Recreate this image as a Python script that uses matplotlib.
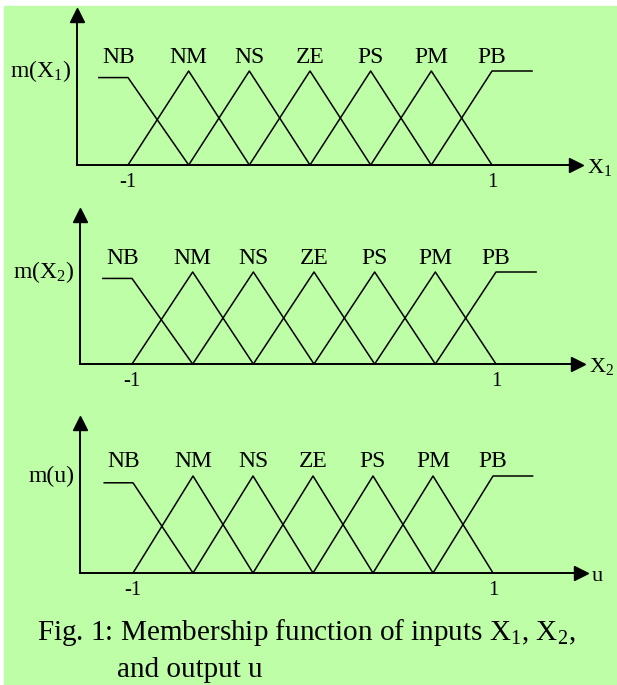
import matplotlib
matplotlib.use('Agg')
import matplotlib.pyplot as plt
from matplotlib.patches import Rectangle

plt.rcParams['font.family'] = ['Liberation Serif', 'DejaVu Serif']
plt.rcParams['mathtext.fontset'] = 'custom'
plt.rcParams['mathtext.rm'] = 'Liberation Serif'

# membership function data (same partition for all three variables)
labels = ['NB', 'NM', 'NS', 'ZE', 'PS', 'PM', 'PB']
centers = [-1, -2/3, -1/3, 0, 1/3, 2/3, 1]
half_width = 1/3
nb_start = -1.16
pb_end = 1.22
nb_top = 0.93

tick_vals = [-1, 1]
tick_labels = ['-1', '1']
y_labels = [r'm($\mathrm{X_1}$)', r'm($\mathrm{X_2}$)', 'm(u)']
x_labels = [r'$\mathrm{X_1}$', r'$\mathrm{X_2}$', 'u']
caption1 = r'Fig. 1: Membership function of inputs $\mathrm{X_1}$, $\mathrm{X_2}$,'
caption2 = 'and output u'

W, H = 617, 685
bg = '#bdfea6'

fig = plt.figure(figsize=(W / 100, H / 100), dpi=100)
fig.patch.set_facecolor('white')
fig.patches.append(Rectangle((4 / W, 0), 1 - 4 / W, 1 - 6 / H,
                             transform=fig.transFigure, color=bg, zorder=-10))

# panel layout in pixels: y-axis x, x-axis y, arrow centre right, arrow centre top, px of -1, px of 1, px of peak
panels = [
    (77, 165, 576, 15, 128, 492, 94),
    (80, 364, 578, 215, 132, 496, 92),
    (80, 573, 581, 423, 133, 493, 97),
]

for k, (x0, y0, xr, yt, pm1, p1, peak) in enumerate(panels):
    ax = fig.add_axes([x0 / W, 1 - y0 / H, (xr - x0) / W, (y0 - yt) / H])
    ax.set_facecolor('none')
    s = (p1 - pm1) / 2
    ax.set_xlim(-1 + (x0 - pm1) / s, -1 + (xr - pm1) / s)
    ax.set_ylim(0, (y0 - yt) / peak)
    for side in ['top', 'right']:
        ax.spines[side].set_visible(False)
    for side in ['left', 'bottom']:
        ax.spines[side].set_linewidth(1.4)
        ax.spines[side].set_color('black')
    ax.set_yticks([])
    ax.set_xticks(tick_vals, tick_labels)
    ax.tick_params(axis='x', length=0, pad=6, labelsize=15)

    # arrow heads
    ax.plot(0, 1, marker='^', ms=10, color='black', transform=ax.transAxes, clip_on=False)
    ax.plot(1, 0, marker='>', ms=10, color='black', transform=ax.transAxes, clip_on=False)

    # membership functions
    for i, (lab, c) in enumerate(zip(labels, centers)):
        if i == 0:
            xs = [nb_start, c, c + half_width]
            ys = [nb_top, nb_top, 0]
        elif i == len(labels) - 1:
            xs = [c - half_width, c, pb_end]
            ys = [0, 1, 1]
        else:
            xs = [c - half_width, c, c + half_width]
            ys = [0, 1, 0]
        ax.plot(xs, ys, color='black', lw=1.1, clip_on=False)
        dx = -0.05 if i == 0 else 0
        ax.text(c + dx, 1.09, lab, ha='center', va='baseline', fontsize=17)

    ax.annotate(y_labels[k], xy=(0, 1), xycoords=('axes fraction', 'data'),
                xytext=(-4, 0), textcoords='offset points',
                ha='right', va='center', fontsize=17)
    ax.annotate(x_labels[k], xy=(1, 0), xycoords='axes fraction',
                xytext=(8, -6), textcoords='offset points',
                ha='left', va='baseline', fontsize=16, annotation_clip=False)

fig.text(37 / W, 1 - 632 / H, caption1, ha='left', va='center', fontsize=21)
fig.text(117 / W, 1 - 670 / H, caption2, ha='left', va='center', fontsize=21)

fig.savefig('out.png', dpi=100, facecolor=fig.get_facecolor())
